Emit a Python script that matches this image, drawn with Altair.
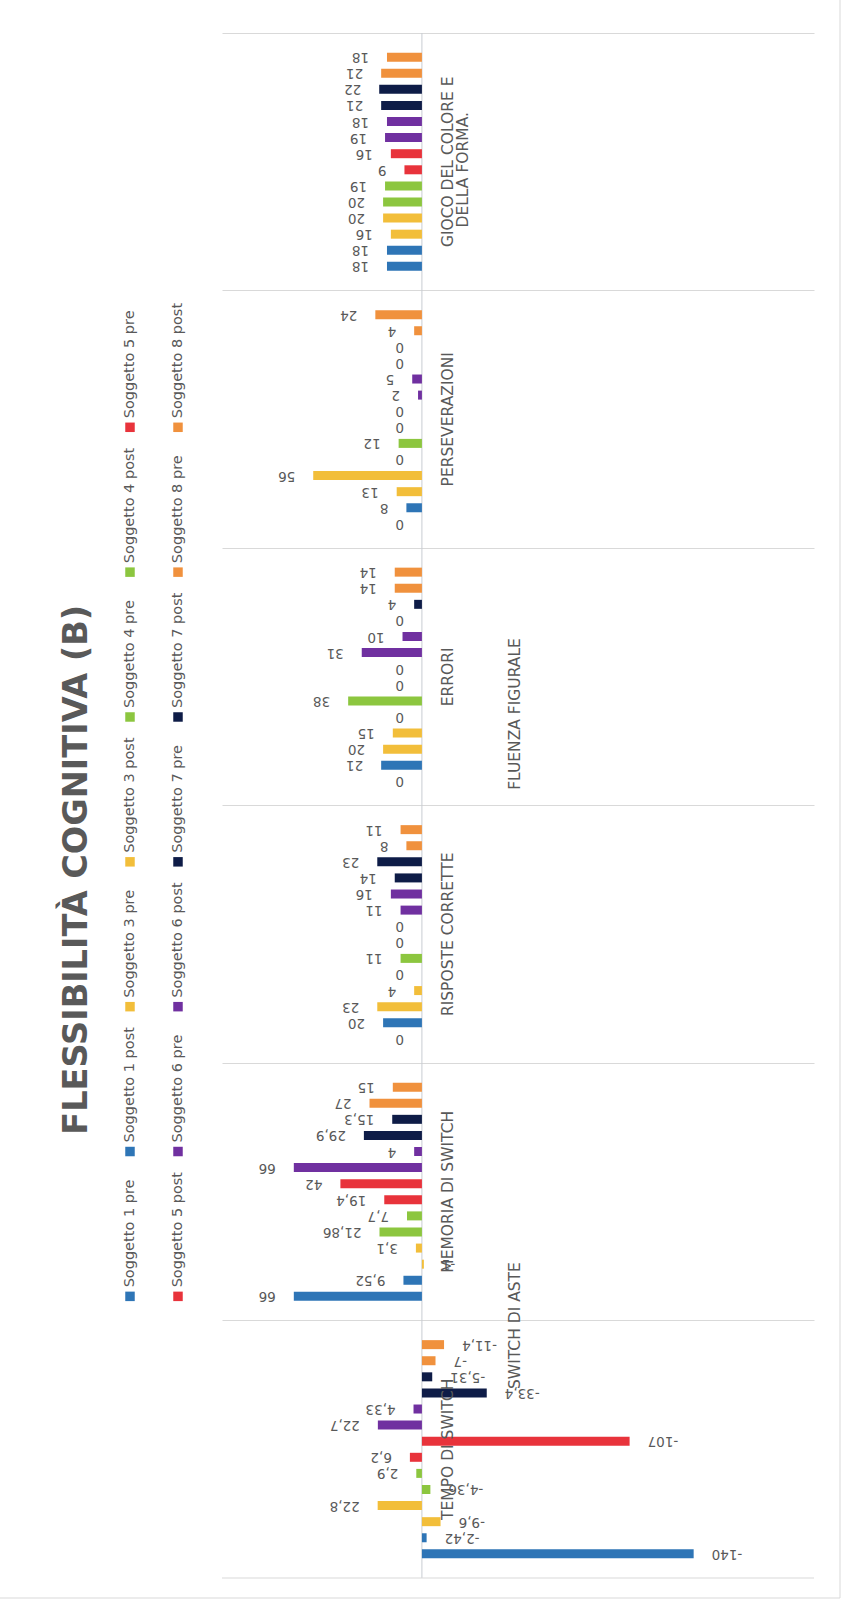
import altair as alt
import pandas as pd

# ---------------- data ----------------
categories = ["TEMPO DI SWITCH", "MEMORIA DI SWITCH", "RISPOSTE CORRETTE",
              "ERRORI", "PERSEVERAZIONI", "GIOCO DEL COLORE E DELLA FORMA."]
gioco_line1 = "GIOCO DEL COLORE E"
gioco_line2 = "DELLA FORMA."
group_switch = "SWITCH DI ASTE"
group_fluenza = "FLUENZA FIGURALE"
title_text = "FLESSIBILITÀ COGNITIVA (B)"

series = ["Soggetto 1 pre", "Soggetto 1 post", "Soggetto 3 pre", "Soggetto 3 post",
          "Soggetto 4 pre", "Soggetto 4 post", "Soggetto 5 pre", "Soggetto 5 post",
          "Soggetto 6 pre", "Soggetto 6 post", "Soggetto 7 pre", "Soggetto 7 post",
          "Soggetto 8 pre", "Soggetto 8 post"]
colors = ["#2E75B6", "#2E75B6", "#F2BE3A", "#F2BE3A", "#8CC63F", "#8CC63F",
          "#E8333B", "#E8333B", "#7030A0", "#7030A0", "#0E1C47", "#0E1C47",
          "#F0913D", "#F0913D"]

tempo = [-140, -2.42, -9.6, 22.8, -4.36, 2.9, 6.2, -107, 22.7, 4.33, -33.4, -5.31, -7, -11.4]
memoria = [66, 9.52, -1, 3.1, 21.86, 7.7, 19.4, 42, 66, 4, 29.9, 15.3, 27, 15]
risposte = [0, 20, 23, 4, 0, 11, 0, 0, 11, 16, 14, 23, 8, 11]
errori = [0, 21, 20, 15, 0, 38, 0, 0, 31, 10, 0, 4, 14, 14]
perseverazioni = [0, 8, 13, 56, 0, 12, 0, 0, 2, 5, 0, 0, 4, 24]
gioco = [18, 18, 16, 20, 20, 19, 9, 16, 19, 18, 21, 22, 21, 18]
values_by_cat = [tempo, memoria, risposte, errori, perseverazioni, gioco]


def fmt(v):
    return f"{v:g}".replace(".", ",")


# ---------------- slot axis: each category = pad + 14 series + pad ----------------
cat_order = categories[::-1]          # top of the page first
slots = []
for c in cat_order:
    slots.append(c + "|_pad_top")
    slots += [c + "|" + s for s in series[::-1]]
    slots.append(c + "|_pad_bottom")

rows = []
for c, vals in zip(categories, values_by_cat):
    for s, v in zip(series, vals):
        rows.append({"slot": c + "|" + s, "series": s, "value": v, "label": fmt(v)})
df = pd.DataFrame(rows)

# ---------------- layout constants ----------------
W, H = 592, 1545
PAD_L, PAD_T = 222, 33
GREY = "#595959"
FONT = "DejaVu Sans"
XMIN, XMAX = -202, 103
PX_PER_UNIT = W / (XMAX - XMIN)


def x_at(px_from_left):
    """data value at a given pixel offset from the plot's left edge (x axis is reversed)"""
    return XMAX - px_from_left / PX_PER_UNIT


axis_y = alt.Axis(grid=True, bandPosition=0, values=[c + "|_pad_top" for c in cat_order],
                  labels=False, ticks=False, domain=False, title=None,
                  gridColor="#D9D9D9", gridWidth=1)
y_enc = alt.Y("slot:N", scale=alt.Scale(domain=slots, paddingInner=0, paddingOuter=0), axis=axis_y)
x_scale = alt.Scale(domain=[XMIN, XMAX], reverse=True, nice=False, zero=False)
color_enc = alt.Color("series:N", scale=alt.Scale(domain=series, range=colors), legend=None)


def X(field):
    return alt.X(field, scale=x_scale, axis=None)


base = alt.Chart(df)

bars = base.mark_bar(size=9).encode(x=X("value:Q"), y=y_enc, color=color_enc)

zero_rule = alt.Chart(pd.DataFrame({"z": [0]})).mark_rule(
    color="#C8CCD2", strokeWidth=1).encode(x=X("z:Q"))

bottom_rule = alt.Chart(pd.DataFrame({"z": [0]})).mark_rule(
    color="#D9D9D9", strokeWidth=1).encode(y=alt.value(H))

lab_pos = base.transform_filter("datum.value >= 0").mark_text(
    angle=180, align="left", baseline="middle", dx=18, fontSize=13.5, font=FONT, color=GREY
).encode(x=X("value:Q"), y=y_enc, text="label:N")

lab_neg = base.transform_filter("datum.value < 0").mark_text(
    angle=180, align="right", baseline="middle", dx=-18, fontSize=13.5, font=FONT, color=GREY
).encode(x=X("value:Q"), y=y_enc, text="label:N")

# category labels sit on the centre of each block (between slot 7 and 8)
cat_lab_df = pd.DataFrame({
    "slot": [slots[16 * k + 8] for k in range(6)],
    "txt": [c if c != categories[5] else gioco_line1 for c in cat_order],
    "z": [0] * 6,
})
cat_labels = alt.Chart(cat_lab_df).mark_text(
    angle=270, align="center", baseline="middle", dx=8, dy=26, fontSize=15.5, font=FONT, color=GREY
).encode(x=X("z:Q"), y=y_enc, text="txt:N")

gioco_2 = alt.Chart(pd.DataFrame({"slot": [slots[8]], "txt": [gioco_line2], "z": [0]})).mark_text(
    angle=270, align="center", baseline="middle", dx=0, dy=41, fontSize=15.5, font=FONT, color=GREY
).encode(x=X("z:Q"), y=y_enc, text="txt:N")

group_df = pd.DataFrame({"slot": [slots[80], slots[42]], "txt": [group_switch, group_fluenza],
                         "z": [0, 0]})
group_labels = alt.Chart(group_df).mark_text(
    angle=270, align="center", baseline="middle", dx=3, dy=93, fontSize=15.5, font=FONT, color=GREY
).encode(x=X("z:Q"), y=y_enc, text="txt:N")

# ---------------- custom rotated legend + title (left margin) ----------------
leg = pd.DataFrame({"series": series})
leg["row"] = [0] * 7 + [1] * 7
leg["idx"] = list(range(7)) * 2
leg["lx"] = [x_at(-92 + 48 * r) for r in leg["row"]]
leg["slot"] = [slots[78 - 9 * i] for i in leg["idx"]]

leg_sq = alt.Chart(leg).mark_square(size=90, opacity=1).encode(
    x=X("lx:Q"), y=y_enc, color=color_enc)
leg_txt = alt.Chart(leg).mark_text(
    angle=270, align="left", baseline="middle", dx=9, fontSize=14.5, font=FONT, color=GREY
).encode(x=X("lx:Q"), y=y_enc, text="series:N")

title = alt.Chart(pd.DataFrame({"t": [title_text], "tx": [x_at(-145)], "slot": [slots[51]]})).mark_text(
    angle=270, align="center", baseline="middle", dx=-8, fontSize=33.5, fontWeight="bold",
    font=FONT, color=GREY
).encode(x=X("tx:Q"), y=y_enc, text="t:N")

frame_v = alt.Chart(pd.DataFrame({"z": [0]})).mark_rule(color="#D9D9D9").encode(
    x=alt.value(W + 26), y=alt.value(-PAD_T), y2=alt.value(H + 20))
frame_h = alt.Chart(pd.DataFrame({"z": [0]})).mark_rule(color="#D9D9D9").encode(
    y=alt.value(H + 20), x=alt.value(-PAD_L), x2=alt.value(W + 26))

chart = alt.layer(zero_rule, bottom_rule, bars, lab_pos, lab_neg, cat_labels, gioco_2,
                  group_labels, leg_sq, leg_txt, title, frame_v, frame_h).properties(
    width=W, height=H,
    padding={"left": PAD_L, "top": PAD_T, "right": 842 - PAD_L - W, "bottom": 1606 - PAD_T - H},
    autosize=alt.AutoSizeParams(type="none"),
    background="white",
).configure_view(stroke=None)

chart.save("out.html", embed_options={"renderer": "svg", "actions": False})
